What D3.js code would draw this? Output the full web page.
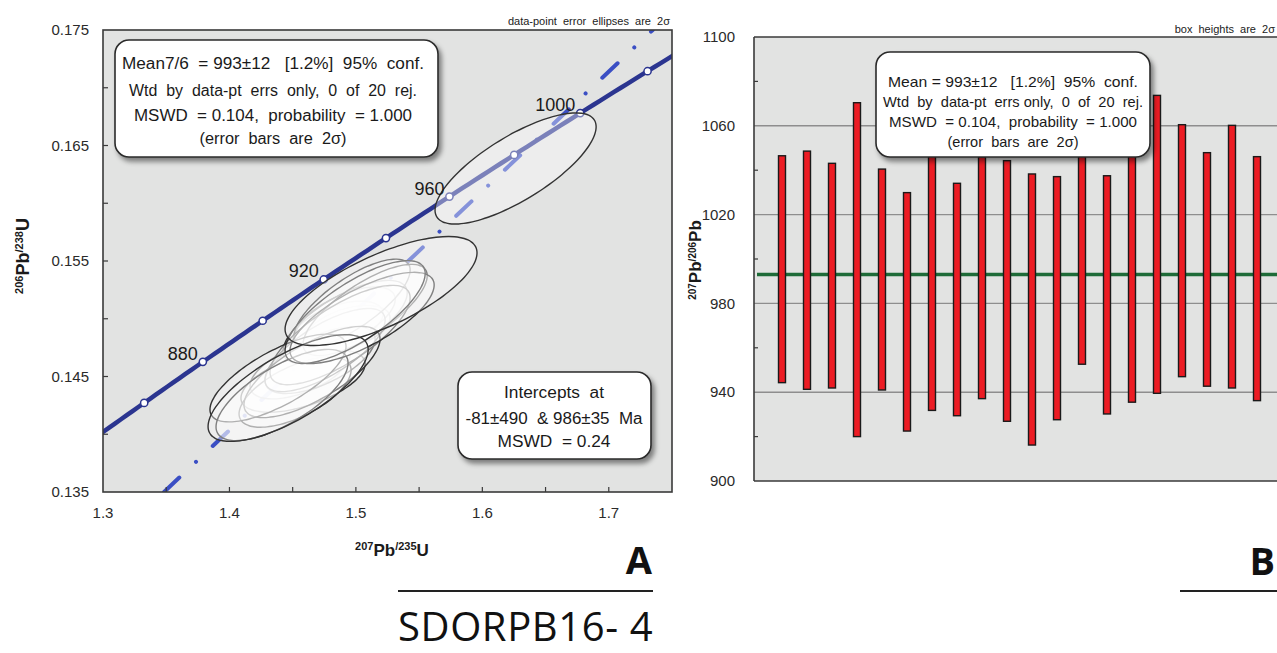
<!DOCTYPE html>
<html>
<head>
<meta charset="utf-8">
<script src="https://cdn.jsdelivr.net/npm/d3@7"></script>
<style>
  html, body { margin: 0; padding: 0; background: #fff; }
  svg { display: block; font-family: "Liberation Sans", Arial, sans-serif; }
  .pre { white-space: pre; }
</style>
</head>
<body>
<svg id="chart" width="1277" height="653"></svg>
<script>
// ---------- Concordia diagram data (ratios, 2-sigma absolute errors, error correlation) ----------
const pb207u235   = [1.4938, 1.4859, 1.4915, 1.4559, 1.4582, 1.4717, 1.4519, 1.4915, 1.4756, 1.4970,
                     1.5073, 1.4875, 1.4653, 1.4384, 1.4416, 1.5049, 1.4994, 1.4464, 1.5199, 1.6263];
const err207u235  = [0.0332, 0.0356, 0.0396, 0.0396, 0.0491, 0.0435, 0.0443, 0.0491, 0.0475, 0.0459,
                     0.0491, 0.0554, 0.0538, 0.0538, 0.0522, 0.0570, 0.0554, 0.0633, 0.0759, 0.0637];
const pb206u238   = [0.14920, 0.14937, 0.15007, 0.14556, 0.14461, 0.14643, 0.14366, 0.14972, 0.14729, 0.15136,
                     0.15076, 0.14859, 0.14539, 0.14487, 0.14340, 0.15007, 0.15058, 0.14400, 0.15240, 0.16301];
const err206u238  = [0.00195, 0.00215, 0.00268, 0.00250, 0.00270, 0.00290, 0.00305, 0.00360, 0.00360, 0.00380,
                     0.00395, 0.00430, 0.00395, 0.00380, 0.00395, 0.00395, 0.00445, 0.00462, 0.00472, 0.00481];
const errCorr     = [0.45, 0.50, 0.60, 0.55, 0.55, 0.62, 0.62, 0.70, 0.72, 0.75,
                     0.75, 0.75, 0.72, 0.72, 0.70, 0.72, 0.75, 0.72, 0.70, 0.75];

const concordiaAges   = [860, 880, 900, 920, 940, 960, 980, 1000, 1020];
const labelledAges    = [880, 920, 960, 1000];
const interceptAges   = [-81, 986];

const xTicksA      = [1.3, 1.4, 1.5, 1.6, 1.7];
const xMinorA      = [1.35, 1.4, 1.45, 1.5, 1.55, 1.6, 1.65, 1.7];
const yTicksA      = [0.135, 0.145, 0.155, 0.165, 0.175];
const yMinorA      = [0.140, 0.145, 0.150, 0.155, 0.160, 0.165, 0.170];

const meanBoxLines = ["Mean7/6  = 993±12   [1.2%]  95%  conf.",
                      "Wtd  by  data-pt  errs  only,  0  of  20  rej.",
                      "MSWD  = 0.104,  probability  = 1.000",
                      "(error  bars  are  2σ)"];
const interceptLines = ["Intercepts  at", "-81±490  & 986±35  Ma", "MSWD  = 0.24"];

// ---------- Weighted-mean plot data (207Pb/206Pb ages, 2-sigma box limits) ----------
const spotIndex = d3.range(1, 21);
const boxHigh = [1046.5, 1048.6, 1043.1, 1070.4, 1040.5, 1029.9, 1047.0, 1034.1, 1046.0, 1044.3,
                 1038.3, 1037.1, 1048.0, 1037.5, 1051.0, 1073.7, 1060.5, 1047.9, 1060.2, 1046.1];
const boxLow  = [944.3, 941.3, 941.9, 920.0, 941.0, 922.5, 931.8, 929.4, 937.1, 926.9,
                 916.2, 927.6, 952.6, 930.2, 935.5, 939.5, 947.0, 942.7, 941.9, 936.2];
const weightedMean = 993;
const yTicksB = [900, 940, 980, 1020, 1060, 1100];
const yGridB  = [940, 980, 1020, 1060];
const yMinorB = [920, 960, 1000, 1040, 1080];
const meanBoxLinesB = ["Mean = 993±12   [1.2%]  95%  conf.",
                       "Wtd  by  data-pt  errs only,  0  of  20  rej.",
                       "MSWD  = 0.104,  probability  = 1.000",
                       "(error  bars  are  2σ)"];

// ---------- helpers ----------
const LAMBDA238 = 1.55125e-4, LAMBDA235 = 9.8485e-4; // per Ma
const concordia = t => [Math.exp(LAMBDA235 * t) - 1, Math.exp(LAMBDA238 * t) - 1];

const svg = d3.select("#chart");
svg.append("rect").attr("width", 1277).attr("height", 653).attr("fill", "#fff");

const defs = svg.append("defs");
const shadow = defs.append("filter").attr("id", "shadow")
  .attr("x", "-10%").attr("y", "-10%").attr("width", "130%").attr("height", "140%");
shadow.append("feDropShadow").attr("dx", 3).attr("dy", 4).attr("stdDeviation", 2.5)
  .attr("flood-color", "#000").attr("flood-opacity", 0.45);

function isotopeLabel(sel, parts, big, small) {
  parts.forEach(p => {
    sel.append("tspan")
      .attr("font-size", p.sup ? small : big)
      .attr("baseline-shift", p.sup ? "super" : null)
      .text(p.t);
  });
}

function textBox(g, x, y, w, h, lines, cx, baselines, fontSize, lengths) {
  g.append("rect").attr("x", x).attr("y", y).attr("width", w).attr("height", h)
    .attr("rx", 14).attr("ry", 14)
    .attr("fill", "#fff").attr("stroke", "#2a2a2a").attr("stroke-width", 1.6)
    .attr("filter", "url(#shadow)");
  lines.forEach((s, i) => {
    const t = g.append("text").attr("class", "pre")
      .attr("x", cx).attr("y", baselines[i])
      .attr("text-anchor", "middle").attr("font-size", fontSize).attr("fill", "#1a1a1a")
      .text(s);
    if (lengths) t.attr("textLength", lengths[i]).attr("lengthAdjust", "spacingAndGlyphs");
  });
}

// ================= Panel A: concordia =================
const A = { left: 103, right: 672, top: 30, bottom: 492 };
const xA = d3.scaleLinear().domain([1.3, 1.75]).range([A.left, A.right]);
const yA = d3.scaleLinear().domain([0.135, 0.175]).range([A.bottom, A.top]);

defs.append("clipPath").attr("id", "clipA").append("rect")
  .attr("x", A.left).attr("y", A.top).attr("width", A.right - A.left).attr("height", A.bottom - A.top);

const gA = svg.append("g");
gA.append("rect").attr("x", A.left).attr("y", A.top)
  .attr("width", A.right - A.left).attr("height", A.bottom - A.top).attr("fill", "#e2e3e2");

const plotA = gA.append("g").attr("clip-path", "url(#clipA)");

// discordia through the two intercepts, from the bottom edge to the top edge
const p1 = concordia(interceptAges[0]), p2 = concordia(interceptAges[1]);
const slope = (p2[1] - p1[1]) / (p2[0] - p1[0]);
const xAtY = yv => p2[0] + (yv - p2[1]) / slope;
const discPts = yA.domain().map(yv => [xAtY(yv), yv]);
plotA.append("path")
  .attr("d", d3.line().x(d => xA(d[0])).y(d => yA(d[1]))(discPts))
  .attr("fill", "none").attr("stroke", "#3b4fc4").attr("stroke-width", 4)
  .attr("stroke-linecap", "round").attr("stroke-dasharray", "21 23 0.01 23");

// concordia curve
const concCurve = d3.range(820, 1062, 2).map(concordia);
plotA.append("path")
  .attr("d", d3.line().x(d => xA(d[0])).y(d => yA(d[1]))(concCurve))
  .attr("fill", "none").attr("stroke", "#2b3590").attr("stroke-width", 4.5);
plotA.selectAll("circle.age").data(concordiaAges).join("circle")
  .attr("class", "age")
  .attr("cx", t => xA(concordia(t)[0])).attr("cy", t => yA(concordia(t)[1]))
  .attr("r", 3.6).attr("fill", "#fff").attr("stroke", "#2b3590").attr("stroke-width", 1.5);

// 2-sigma error ellipses
const ellipsePath = i => {
  const pts = d3.range(0, 72).map(k => {
    const th = k / 72 * 2 * Math.PI;
    const ex = err207u235[i], ey = err206u238[i], r = errCorr[i];
    return [pb207u235[i] + ex * Math.cos(th),
            pb206u238[i] + ey * (r * Math.cos(th) + Math.sqrt(1 - r * r) * Math.sin(th))];
  });
  return d3.line().x(d => xA(d[0])).y(d => yA(d[1])).curve(d3.curveCardinalClosed)(pts);
};
plotA.selectAll("path.ell").data(d3.range(pb207u235.length)).join("path")
  .attr("class", "ell").attr("d", ellipsePath)
  .attr("fill", "#fff").attr("fill-opacity", 0.38)
  .attr("stroke", "#333").attr("stroke-width", 1.4);

// age labels on the concordia
plotA.selectAll("text.agelbl").data(labelledAges).join("text")
  .attr("class", "agelbl")
  .attr("x", t => xA(concordia(t)[0]) - 5).attr("y", t => yA(concordia(t)[1]) - 2)
  .attr("text-anchor", "end").attr("font-size", 18).attr("fill", "#1a1a1a")
  .text(t => t);

// frame and inward ticks
gA.append("rect").attr("x", A.left).attr("y", A.top)
  .attr("width", A.right - A.left).attr("height", A.bottom - A.top)
  .attr("fill", "none").attr("stroke", "#3a3a3a").attr("stroke-width", 1.6);
gA.selectAll("line.ty").data(yMinorA).join("line").attr("class", "ty")
  .attr("x1", A.left).attr("x2", A.left + 5).attr("y1", d => yA(d)).attr("y2", d => yA(d))
  .attr("stroke", "#3a3a3a").attr("stroke-width", 1.2);
gA.selectAll("line.tx").data(xMinorA).join("line").attr("class", "tx")
  .attr("x1", d => xA(d)).attr("x2", d => xA(d)).attr("y1", A.bottom).attr("y2", A.bottom - 5)
  .attr("stroke", "#3a3a3a").attr("stroke-width", 1.2);

gA.selectAll("text.ylab").data(yTicksA).join("text").attr("class", "ylab")
  .attr("x", 89).attr("y", d => yA(d)).attr("dy", "0.35em")
  .attr("text-anchor", "end").attr("font-size", 15).attr("fill", "#2a2a2a")
  .text(d3.format(".3f"));
gA.selectAll("text.xlab").data(xTicksA).join("text").attr("class", "xlab")
  .attr("x", d => xA(d)).attr("y", 518)
  .attr("text-anchor", "middle").attr("font-size", 15).attr("fill", "#2a2a2a")
  .text(d3.format(".1f"));

// axis titles
const yTitleA = gA.append("text").attr("transform", "translate(29,256) rotate(-90)")
  .attr("text-anchor", "middle").attr("font-weight", "bold").attr("fill", "#1a1a1a");
isotopeLabel(yTitleA, [{t: "206", sup: true}, {t: "Pb"}, {t: "/238", sup: true}, {t: "U"}], 18, 11);
const xTitleA = gA.append("text").attr("x", 392).attr("y", 556)
  .attr("text-anchor", "middle").attr("font-weight", "bold").attr("fill", "#1a1a1a");
isotopeLabel(xTitleA, [{t: "207", sup: true}, {t: "Pb"}, {t: "/235", sup: true}, {t: "U"}], 17, 11);

gA.append("text").attr("class", "pre").attr("x", 670).attr("y", 25)
  .attr("text-anchor", "end").attr("font-size", 11).attr("fill", "#222")
  .text("data-point  error  ellipses  are  2σ");

textBox(gA, 115, 40, 323, 117, meanBoxLines, 273, [69, 96, 121, 144], 16, [302, 288, 278, 147]);
textBox(gA, 458, 372, 193, 87, interceptLines, 554, [398, 424, 447], 16, [100, 177, 113]);

// ================= Panel B: weighted mean =================
const B = { left: 754, right: 1290, top: 37, bottom: 481 };
const yB = d3.scaleLinear().domain([900, 1100]).range([B.bottom, B.top]);
const xB = d3.scaleLinear().domain([1, 20]).range([782, 1257]);

const gB = svg.append("g");
gB.append("rect").attr("x", B.left).attr("y", B.top)
  .attr("width", B.right - B.left).attr("height", B.bottom - B.top).attr("fill", "#e2e3e2");
gB.selectAll("line.grid").data(yGridB).join("line").attr("class", "grid")
  .attr("x1", B.left).attr("x2", B.right).attr("y1", d => yB(d)).attr("y2", d => yB(d))
  .attr("stroke", "#8e8e8e").attr("stroke-width", 1.4);
gB.append("line")
  .attr("x1", B.left + 3).attr("x2", B.right).attr("y1", yB(weightedMean)).attr("y2", yB(weightedMean))
  .attr("stroke", "#1e6b38").attr("stroke-width", 3.6);
gB.selectAll("rect.bar").data(spotIndex).join("rect").attr("class", "bar")
  .attr("x", i => xB(i) - 3.5).attr("width", 7)
  .attr("y", i => yB(boxHigh[i - 1]))
  .attr("height", i => yB(boxLow[i - 1]) - yB(boxHigh[i - 1]))
  .attr("fill", "#ec1c24").attr("stroke", "#1a1a1a").attr("stroke-width", 1.4);

gB.append("line").attr("x1", B.left).attr("x2", B.right).attr("y1", B.top).attr("y2", B.top)
  .attr("stroke", "#3a3a3a").attr("stroke-width", 1.6);
gB.append("line").attr("x1", B.left).attr("x2", B.right).attr("y1", B.bottom).attr("y2", B.bottom)
  .attr("stroke", "#3a3a3a").attr("stroke-width", 1.6);
gB.append("line").attr("x1", B.left).attr("x2", B.left).attr("y1", B.top).attr("y2", B.bottom)
  .attr("stroke", "#3a3a3a").attr("stroke-width", 1.6);
gB.selectAll("line.tyb").data(yMinorB).join("line").attr("class", "tyb")
  .attr("x1", B.left).attr("x2", B.left + 4).attr("y1", d => yB(d)).attr("y2", d => yB(d))
  .attr("stroke", "#3a3a3a").attr("stroke-width", 1.2);
gB.selectAll("text.ylabb").data(yTicksB).join("text").attr("class", "ylabb")
  .attr("x", 735).attr("y", d => yB(d)).attr("dy", "0.35em")
  .attr("text-anchor", "end").attr("font-size", 15).attr("fill", "#2a2a2a")
  .text(d => d);

const yTitleB = gB.append("text").attr("transform", "translate(701,260) rotate(-90)")
  .attr("text-anchor", "middle").attr("font-weight", "bold").attr("fill", "#1a1a1a");
isotopeLabel(yTitleB, [{t: "207", sup: true}, {t: "Pb"}, {t: "/206", sup: true}, {t: "Pb"}], 17, 10);

gB.append("text").attr("class", "pre").attr("x", 1275).attr("y", 33)
  .attr("text-anchor", "end").attr("font-size", 11).attr("fill", "#222")
  .text("box  heights  are  2σ");

textBox(gB, 876, 52, 274, 105, meanBoxLinesB, 1013, [87, 107, 127, 147], 15, [250, 260, 248, 131]);

// ================= panel letters and sample name =================
svg.append("text").attr("x", 652).attr("y", 574).attr("text-anchor", "end")
  .attr("font-family", "'Open Sans', 'Noto Sans', sans-serif").attr("font-weight", "bold")
  .attr("font-size", 38).attr("fill", "#111").text("A");
svg.append("line").attr("x1", 398).attr("x2", 653).attr("y1", 591).attr("y2", 591)
  .attr("stroke", "#222").attr("stroke-width", 2);
svg.append("text").attr("x", 398).attr("y", 641)
  .attr("font-family", "'Open Sans', 'Noto Sans', sans-serif")
  .attr("font-size", 40).attr("letter-spacing", 0.6).attr("fill", "#111")
  .text("SDORPB16- 4");
svg.append("text").attr("x", 1275).attr("y", 575).attr("text-anchor", "end")
  .attr("font-family", "'Open Sans', 'Noto Sans', sans-serif").attr("font-weight", "bold")
  .attr("font-size", 38).attr("fill", "#111").text("B");
svg.append("line").attr("x1", 1180).attr("x2", 1277).attr("y1", 591).attr("y2", 591)
  .attr("stroke", "#222").attr("stroke-width", 2);
</script>
</body>
</html>
